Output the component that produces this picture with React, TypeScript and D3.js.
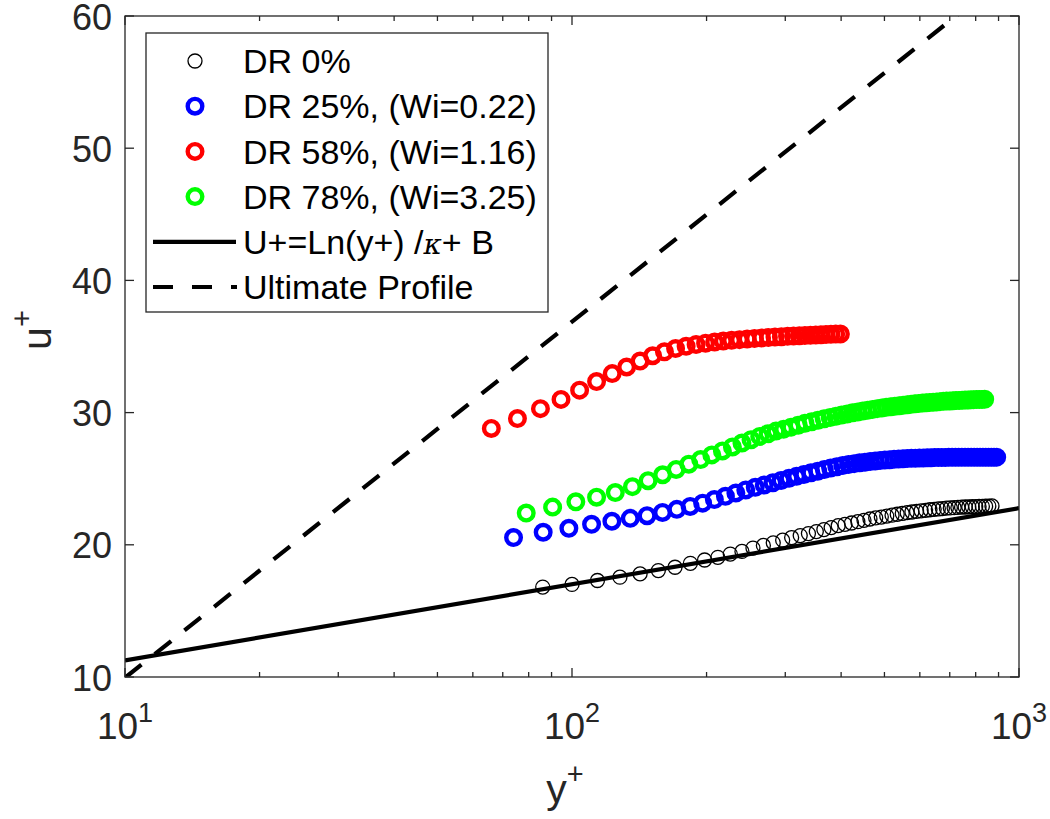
import React from 'react';
import * as d3 from 'd3';

// wall units
const dr0Y = [86, 100, 114, 128, 142, 156, 170, 184, 198, 212, 226, 240, 254, 268, 282, 296, 310, 324, 338, 352, 366, 380, 394, 408, 422, 436, 450, 464, 478, 492, 506, 520, 534, 548, 562, 576, 590, 604, 618, 632, 646, 660, 674, 688, 702, 716, 730, 744, 758, 772, 786, 800, 814, 828, 842, 856, 870];
const dr0U = [16.8, 17.0, 17.3, 17.55, 17.8, 18.05, 18.3, 18.6, 18.85, 19.05, 19.3, 19.5, 19.75, 19.95, 20.15, 20.35, 20.55, 20.7, 20.85, 21.0, 21.15, 21.3, 21.45, 21.55, 21.65, 21.75, 21.85, 21.95, 22.03, 22.1, 22.17, 22.24, 22.31, 22.37, 22.43, 22.48, 22.53, 22.57, 22.61, 22.65, 22.68, 22.71, 22.74, 22.77, 22.79, 22.81, 22.83, 22.85, 22.86, 22.87, 22.88, 22.89, 22.9, 22.91, 22.92, 22.93, 22.94];

const dr25Y = [74, 86.2, 98.4, 110.6, 122.8, 135, 147.2, 159.4, 171.6, 183.8, 196, 208.2, 220.4, 232.6, 244.8, 257, 269.2, 281.4, 293.6, 305.8, 318, 330.2, 342.4, 354.6, 366.8, 379, 391.2, 403.4, 415.6, 427.8, 440, 452.2, 464.4, 476.6, 488.8, 501, 513.2, 525.4, 537.6, 549.8, 562, 574.2, 586.4, 598.6, 610.8, 623, 635.2, 647.4, 659.6, 671.8, 684, 696.2, 708.4, 720.6, 732.8, 745, 757.2, 769.4, 781.6, 793.8, 806, 818.2, 830.4, 842.6, 854.8, 867, 879.2, 891.4];
const dr25U = [20.55, 20.95, 21.25, 21.55, 21.78, 22.0, 22.2, 22.45, 22.68, 22.9, 23.15, 23.42, 23.67, 23.92, 24.15, 24.35, 24.53, 24.7, 24.87, 25.03, 25.18, 25.32, 25.45, 25.57, 25.69, 25.8, 25.9, 26.0, 26.07, 26.14, 26.2, 26.25, 26.3, 26.34, 26.38, 26.41, 26.44, 26.47, 26.49, 26.51, 26.53, 26.54, 26.55, 26.56, 26.57, 26.58, 26.59, 26.6, 26.6, 26.61, 26.61, 26.62, 26.62, 26.62, 26.62, 26.63, 26.63, 26.63, 26.63, 26.63, 26.63, 26.63, 26.63, 26.63, 26.63, 26.63, 26.63, 26.63];

const dr58Y = [66, 75.5, 85, 94.5, 104, 113.5, 123, 132.5, 142, 151.5, 161, 170.5, 180, 189.5, 199, 208.5, 218, 227.5, 237, 246.5, 256, 265.5, 275, 284.5, 294, 303.5, 313, 322.5, 332, 341.5, 351, 360.5, 370, 379.5, 389, 398.5];
const dr58U = [28.8, 29.55, 30.3, 31.0, 31.7, 32.35, 32.95, 33.45, 33.9, 34.3, 34.6, 34.85, 35.02, 35.15, 35.25, 35.34, 35.41, 35.47, 35.52, 35.57, 35.61, 35.65, 35.68, 35.71, 35.74, 35.77, 35.79, 35.81, 35.83, 35.85, 35.87, 35.89, 35.91, 35.92, 35.94, 35.95];

const dr78Y = [79, 90.5, 102, 113.5, 125, 136.5, 148, 159.5, 171, 182.5, 194, 205.5, 217, 228.5, 240, 251.5, 263, 274.5, 286, 297.5, 309, 320.5, 332, 343.5, 355, 366.5, 378, 389.5, 401, 412.5, 424, 435.5, 447, 458.5, 470, 481.5, 493, 504.5, 516, 527.5, 539, 550.5, 562, 573.5, 585, 596.5, 608, 619.5, 631, 642.5, 654, 665.5, 677, 688.5, 700, 711.5, 723, 734.5, 746, 757.5, 769, 780.5, 792, 803.5, 815, 826.5, 838];
const dr78U = [22.4, 22.85, 23.25, 23.6, 23.95, 24.4, 24.85, 25.3, 25.7, 26.1, 26.45, 26.8, 27.1, 27.4, 27.7, 27.95, 28.2, 28.4, 28.6, 28.75, 28.9, 29.05, 29.2, 29.3, 29.42, 29.53, 29.63, 29.73, 29.82, 29.9, 29.98, 30.05, 30.12, 30.18, 30.24, 30.3, 30.35, 30.4, 30.44, 30.48, 30.52, 30.56, 30.6, 30.63, 30.66, 30.69, 30.72, 30.75, 30.77, 30.79, 30.81, 30.83, 30.85, 30.87, 30.88, 30.9, 30.91, 30.92, 30.94, 30.95, 30.96, 30.97, 30.98, 30.99, 31.0, 31.0, 31.01];

// straight lines on the semilog axes: end points only
const logLawY = [10, 1000];
const logLawU = [11.26, 22.77];
const ultimateY = [10, 1000];
const ultimateU = [9.94, 63.8];

const yTicks = [10, 20, 30, 40, 50, 60];
const xDecades = [1, 2, 3];

const legendLabels = ['DR 0%', 'DR 25%, (Wi=0.22)', 'DR 58%, (Wi=1.16)', 'DR 78%, (Wi=3.25)'];

const axisColor = '#262626';
const font = '"Liberation Sans", Arial, Helvetica, sans-serif';

const zip = (xs: number[], ys: number[]) =>
	d3.range(Math.min(xs.length, ys.length)).map((i) => [xs[i], ys[i]] as [number, number]);

const series = [
	{ pts: zip(dr0Y, dr0U), color: '#000000', r: 7, sw: 1.3 },
	{ pts: zip(dr25Y, dr25U), color: '#0000ff', r: 7.3, sw: 4.4 },
	{ pts: zip(dr58Y, dr58U), color: '#ff0000', r: 7.3, sw: 4.4 },
	{ pts: zip(dr78Y, dr78U), color: '#00ff00', r: 7.3, sw: 4.4 }
];

export default function App() {
	const W = 1050;
	const H = 819;
	const left = 125;
	const right = 1019;
	const top = 16;
	const bottom = 677;

	const x = d3.scaleLog().domain([10, 1000]).range([left, right]);
	const y = d3.scaleLinear().domain([10, 60]).range([bottom, top]);

	const line = d3
		.line<[number, number]>()
		.x((d) => x(d[0]))
		.y((d) => y(d[1]));

	const minorTicks = x.ticks().filter((t) => !xDecades.some((e) => Math.abs(t - Math.pow(10, e)) < 1e-6));

	// legend
	const lgX = 146;
	const lgY = 33;
	const lgW = 402;
	const lgH = 279;
	const rowY = (i: number) => 61 + i * 45.2;

	return (
		<svg width={W} height={H} style={{ position: 'absolute', left: 0, top: 0, background: '#fff' }} fontFamily={font}>
			<defs>
				<clipPath id="plotArea">
					<rect x={left} y={top} width={right - left} height={bottom - top} />
				</clipPath>
			</defs>
			<rect x={0} y={0} width={W} height={H} fill="#fff" />

			{/* data */}
			<g clipPath="url(#plotArea)">
				{series.map((s, si) => (
					<g key={si}>
						{s.pts.map((p, i) => (
							<circle key={i} cx={x(p[0])} cy={y(p[1])} r={s.r} fill="none" stroke={s.color} strokeWidth={s.sw} />
						))}
					</g>
				))}
				<path d={line(zip(logLawY, logLawU)) || ''} fill="none" stroke="#000" strokeWidth={4.2} />
				<path d={line(zip(ultimateY, ultimateU)) || ''} fill="none" stroke="#000" strokeWidth={4.2} strokeDasharray="21 17" />
			</g>

			{/* frame */}
			<rect x={left} y={top} width={right - left} height={bottom - top} fill="none" stroke={axisColor} strokeWidth={1.3} />

			{/* y ticks */}
			{yTicks.map((t) => (
				<g key={t}>
					<line x1={left} x2={left + 9} y1={y(t)} y2={y(t)} stroke={axisColor} strokeWidth={1.3} />
					<line x1={right} x2={right - 9} y1={y(t)} y2={y(t)} stroke={axisColor} strokeWidth={1.3} />
					<text x={112} y={y(t)} dy="0.38em" textAnchor="end" fontSize={36} fill={axisColor}>
						{t}
					</text>
				</g>
			))}

			{/* x ticks */}
			{minorTicks.map((t, i) => (
				<g key={i}>
					<line x1={x(t)} x2={x(t)} y1={bottom} y2={bottom - 5} stroke={axisColor} strokeWidth={1.3} />
					<line x1={x(t)} x2={x(t)} y1={top} y2={top + 5} stroke={axisColor} strokeWidth={1.3} />
				</g>
			))}
			{xDecades.map((e) => {
				const v = Math.pow(10, e);
				return (
					<g key={e}>
						<line x1={x(v)} x2={x(v)} y1={bottom} y2={bottom - 9} stroke={axisColor} strokeWidth={1.3} />
						<line x1={x(v)} x2={x(v)} y1={top} y2={top + 9} stroke={axisColor} strokeWidth={1.3} />
						<text x={x(v)} y={739} textAnchor="middle" fontSize={37} fill={axisColor}>
							10
							<tspan fontSize={27} dy={-17}>
								{e}
							</tspan>
						</text>
					</g>
				);
			})}

			{/* axis labels */}
			<text x={565} y={803} textAnchor="middle" fontSize={41} fill={axisColor}>
				y
				<tspan fontSize={29} dy={-19}>
					+
				</tspan>
			</text>
			<text transform="translate(51,330) rotate(-90)" textAnchor="middle" fontSize={41} fill={axisColor}>
				u
				<tspan fontSize={29} dy={-19}>
					+
				</tspan>
			</text>

			{/* legend */}
			<rect x={lgX} y={lgY} width={lgW} height={lgH} fill="#fff" stroke={axisColor} strokeWidth={1.3} />
			{series.map((s, i) => (
				<g key={i}>
					<circle cx={195} cy={rowY(i)} r={s.r} fill="none" stroke={s.color} strokeWidth={s.sw} />
					<text x={243} y={rowY(i)} dy="0.36em" fontSize={34} fill="#000">
						{legendLabels[i]}
					</text>
				</g>
			))}
			<line x1={153} x2={236} y1={rowY(4)} y2={rowY(4)} stroke="#000" strokeWidth={4.2} />
			<text x={243} y={rowY(4)} dy="0.36em" fontSize={34} fill="#000">
				U+=Ln(y+) /
				<tspan fontFamily="'DejaVu Serif', 'Liberation Serif', serif" fontStyle="italic" fontSize={28}>
					κ
				</tspan>
				+ B
			</text>
			<line x1={153} x2={237} y1={rowY(5)} y2={rowY(5)} stroke="#000" strokeWidth={4.2} strokeDasharray="20 19" />
			<text x={243} y={rowY(5)} dy="0.36em" fontSize={34} fill="#000">
				Ultimate Profile
			</text>
		</svg>
	);
}
